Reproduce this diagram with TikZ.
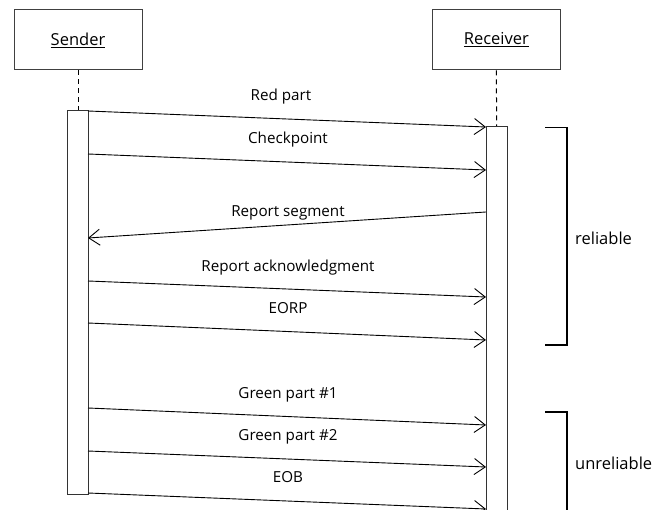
\documentclass[tikz,border=0pt]{standalone}
\usepackage{fontspec}
\setmainfont{Open Sans}
\usetikzlibrary{arrows.meta}
\begin{document}
\begin{tikzpicture}[x=1pt,y=-1pt,
  every node/.style={font=\fontsize{15.2}{17}\selectfont},
  big/.style={font=\fontsize{16.5}{19}\selectfont},
  actor/.style={draw=black!75, line width=1pt, minimum width=128pt, minimum height=60pt, inner sep=0pt},
  bar/.style={draw=black!80, fill=white, line width=1pt},
  life/.style={draw=black, line width=1pt, dash pattern=on 5pt off 4pt},
  msg/.style={draw=black, line width=0.9pt, -{Straight Barb[length=11pt,width=16pt,line width=0.9pt]}},
  lbl/.style={inner sep=0pt, anchor=base},
  brk/.style={draw=black, line width=1.8pt},
]
\useasboundingbox (0,0) rectangle (667,510);
% actors
\node[actor, big] (snd) at (78,40) {\underline{Sender}};
\node[actor, big] (rcv) at (496.3,40) {\underline{Receiver}};
% lifelines
\coordinate (sbt) at (78,111);
\coordinate (rbt) at (496.7,127);
\draw[life] (snd.south) -- (sbt);
\draw[life] (rcv.south) -- (rbt);
% activation bars
\draw[bar] (67.5,111) rectangle (88,495);
\draw[bar] (486,127) rectangle (507,520);
% message endpoints
\foreach \n/\a/\b in {1/111/127, 2/154/170, 4/281/297, 5/323/340, 6/408/425, 7/451/467, 8/493/509}{
  \coordinate (s\n) at (88,\a);
  \coordinate (r\n) at (486,\b);
}
\coordinate (r3) at (486,212);
\coordinate (s3) at (88,238);
\draw[msg] (s1) -- (r1);
\draw[msg] (s2) -- (r2);
\draw[msg] (r3) -- (s3);
\draw[msg] (s4) -- (r4);
\draw[msg] (s5) -- (r5);
\draw[msg] (s6) -- (r6);
\draw[msg] (s7) -- (r7);
\draw[msg] (s8) -- (r8);
% labels
\node[lbl] (l1) at (281,100.5) {Red part};
\node[lbl] (l2) at (288,143.5) {Checkpoint};
\node[lbl] (l3) at (288,216.5) {Report segment};
\node[lbl] (l4) at (288,271.5) {Report acknowledgment};
\node[lbl] (l5) at (288,313.5) {EORP};
\node[lbl] (l6) at (288,398.5) {Green part \#1};
\node[lbl] (l7) at (288,440.5) {Green part \#2};
\node[lbl] (l8) at (288,482.5) {EOB};
% brackets
\draw[brk] (545,127.5) -- (567,127.5) -- (567,345) -- (545,345);
\node[inner sep=0pt, big, anchor=west] (rel) at (575,238) {reliable};
\draw[brk] (545,412) -- (567,412) -- (567,515);
\node[inner sep=0pt, big, anchor=west] (unrel) at (575,463) {unreliable};
\end{tikzpicture}
\end{document}
